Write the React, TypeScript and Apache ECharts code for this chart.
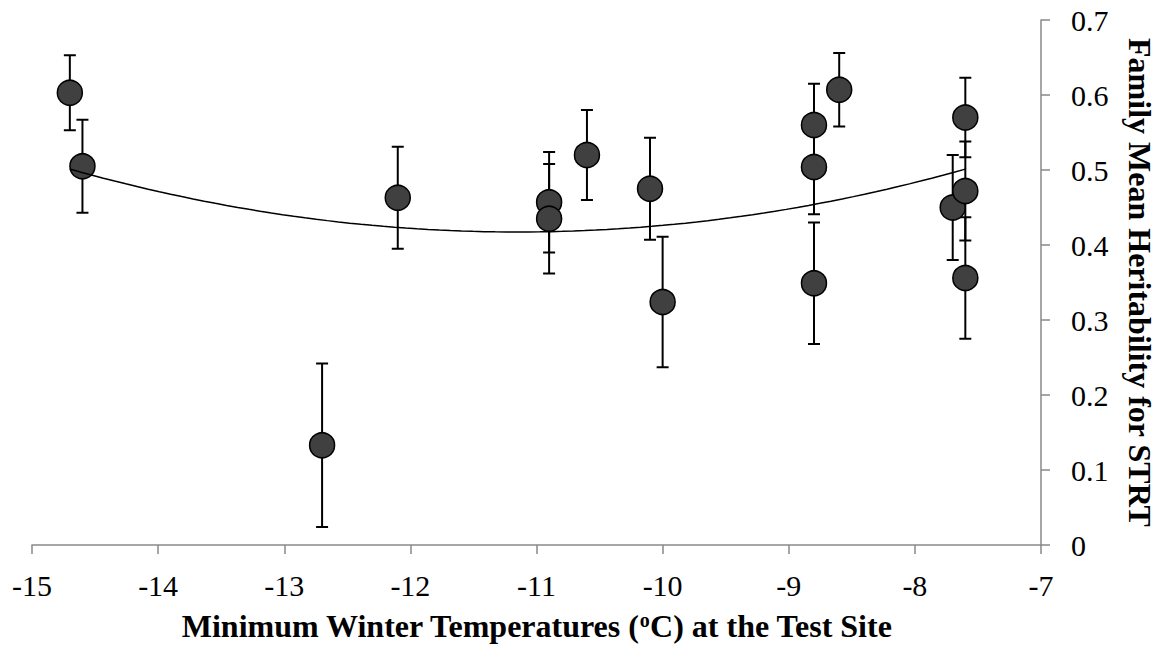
import React, { useEffect, useRef } from "react";
import * as echarts from "echarts";

// Minimum winter temperature (°C) at each test site
const temps = [-14.7, -14.6, -12.7, -12.1, -10.9, -10.9, -10.6, -10.1, -10.0, -8.8, -8.8, -8.8, -8.6, -7.7, -7.6, -7.6, -7.6];
// Family mean heritability for STRT
const heritability = [0.603, 0.505, 0.133, 0.463, 0.457, 0.435, 0.52, 0.475, 0.324, 0.56, 0.504, 0.349, 0.607, 0.45, 0.57, 0.472, 0.356];
// Standard errors (error bar half-lengths)
const errors = [0.05, 0.062, 0.109, 0.068, 0.067, 0.073, 0.06, 0.068, 0.087, 0.055, 0.063, 0.081, 0.049, 0.07, 0.053, 0.066, 0.081];

const xTicks = { min: -15, max: -7, interval: 1 };
const yTicks = { min: 0, max: 0.7, interval: 0.1 };

const xTitle = "Minimum Winter Temperatures ({sup|o}C) at the Test Site";
const yTitle = "Family Mean Heritability for STRT";

// Second-order polynomial least-squares trendline fitted on the data
function quadFit(xs: number[], ys: number[]) {
  const n = xs.length;
  const s = [0, 0, 0, 0, 0];
  const t = [0, 0, 0];
  for (let i = 0; i < n; i++) {
    const x = xs[i];
    const y = ys[i];
    let p = 1;
    for (let k = 0; k <= 4; k++) {
      s[k] += p;
      if (k <= 2) t[k] += p * y;
      p *= x;
    }
  }
  const A = [
    [s[0], s[1], s[2], t[0]],
    [s[1], s[2], s[3], t[1]],
    [s[2], s[3], s[4], t[2]],
  ];
  for (let i = 0; i < 3; i++) {
    let piv = i;
    for (let r = i + 1; r < 3; r++) if (Math.abs(A[r][i]) > Math.abs(A[piv][i])) piv = r;
    [A[i], A[piv]] = [A[piv], A[i]];
    for (let r = 0; r < 3; r++) {
      if (r === i) continue;
      const f = A[r][i] / A[i][i];
      for (let c = i; c < 4; c++) A[r][c] -= f * A[i][c];
    }
  }
  return [A[0][3] / A[0][0], A[1][3] / A[1][1], A[2][3] / A[2][2]];
}

export default function App() {
  const ref = useRef<HTMLDivElement>(null);
  useEffect(() => {
    if (!ref.current) return;
    const chart = echarts.init(ref.current, null, { renderer: "svg" });

    const coef = quadFit(temps, heritability);
    const xmin = Math.min(...temps);
    const xmax = Math.max(...temps);
    const trend: number[][] = [];
    const steps = 80;
    for (let i = 0; i <= steps; i++) {
      const x = xmin + ((xmax - xmin) * i) / steps;
      trend.push([x, coef[0] + coef[1] * x + coef[2] * x * x]);
    }

    const points = temps.map((t, i) => [t, heritability[i]]);
    const bars = temps.map((t, i) => [t, heritability[i] - errors[i], heritability[i] + errors[i]]);

    const axisColor = "#898989";
    const font = "Liberation Serif";

    chart.setOption({
      animation: false,
      backgroundColor: "#ffffff",
      grid: { left: 32, right: 119, top: 20, bottom: 102, containLabel: false, outerBoundsMode: "none" },
      xAxis: {
        type: "value",
        min: xTicks.min,
        max: xTicks.max,
        interval: xTicks.interval,
        splitLine: { show: false },
        axisLine: { onZero: false, lineStyle: { color: axisColor, width: 1.5 } },
        axisTick: { show: true, length: 9, lineStyle: { color: axisColor, width: 1.5 } },
        axisLabel: { color: "#000", fontFamily: font, fontSize: 30, margin: 25 },
        name: xTitle,
        nameLocation: "middle",
        nameGap: 65,
        nameTextStyle: {
          color: "#000",
          fontFamily: font,
          fontSize: 32,
          fontWeight: "bold",
          rich: {
            sup: {
              color: "#000",
              fontFamily: font,
              fontSize: 20,
              fontWeight: "bold",
              lineHeight: 20,
              verticalAlign: "top",
            },
          },
        },
      },
      yAxis: {
        type: "value",
        position: "right",
        min: yTicks.min,
        max: yTicks.max,
        interval: yTicks.interval,
        splitLine: { show: false },
        axisLine: { show: true, onZero: false, lineStyle: { color: axisColor, width: 1.5 } },
        axisTick: { show: true, length: 9, lineStyle: { color: axisColor, width: 1.5 } },
        axisLabel: {
          color: "#000",
          fontFamily: font,
          fontSize: 30,
          margin: 30,
          formatter: (v: number) => (v === 0 ? "0" : v.toFixed(1)),
        },
        name: yTitle,
        nameLocation: "middle",
        nameGap: 84,
        nameRotate: -90,
        nameTextStyle: { color: "#000", fontFamily: font, fontSize: 32, fontWeight: "bold", lineHeight: 30 },
      },
      series: [
        {
          type: "custom",
          data: bars,
          z: 1,
          encode: { x: 0, y: [1, 2] },
          renderItem: (params: any, api: any) => {
            const x = api.value(0);
            const lo = api.coord([x, api.value(1)]);
            const hi = api.coord([x, api.value(2)]);
            const hw = 6;
            const style = { stroke: "#000", lineWidth: 2 };
            return {
              type: "group",
              children: [
                { type: "line", shape: { x1: lo[0], y1: lo[1], x2: hi[0], y2: hi[1] }, style },
                { type: "line", shape: { x1: hi[0] - hw, y1: hi[1], x2: hi[0] + hw, y2: hi[1] }, style },
                { type: "line", shape: { x1: lo[0] - hw, y1: lo[1], x2: lo[0] + hw, y2: lo[1] }, style },
              ],
            };
          },
        },
        {
          type: "scatter",
          data: points,
          z: 2,
          symbol: "circle",
          symbolSize: 25,
          itemStyle: { color: "#404040", borderColor: "#000", borderWidth: 1.5, opacity: 1 },
        },
        {
          type: "line",
          data: trend,
          z: 3,
          showSymbol: false,
          symbol: "none",
          smooth: false,
          lineStyle: { color: "#000", width: 1.5 },
        },
      ],
    });
    return () => chart.dispose();
  }, []);

  return (
    <div
      ref={ref}
      style={{ position: "fixed", left: 0, top: 0, width: 1160, height: 647, background: "#fff" }}
    />
  );
}
